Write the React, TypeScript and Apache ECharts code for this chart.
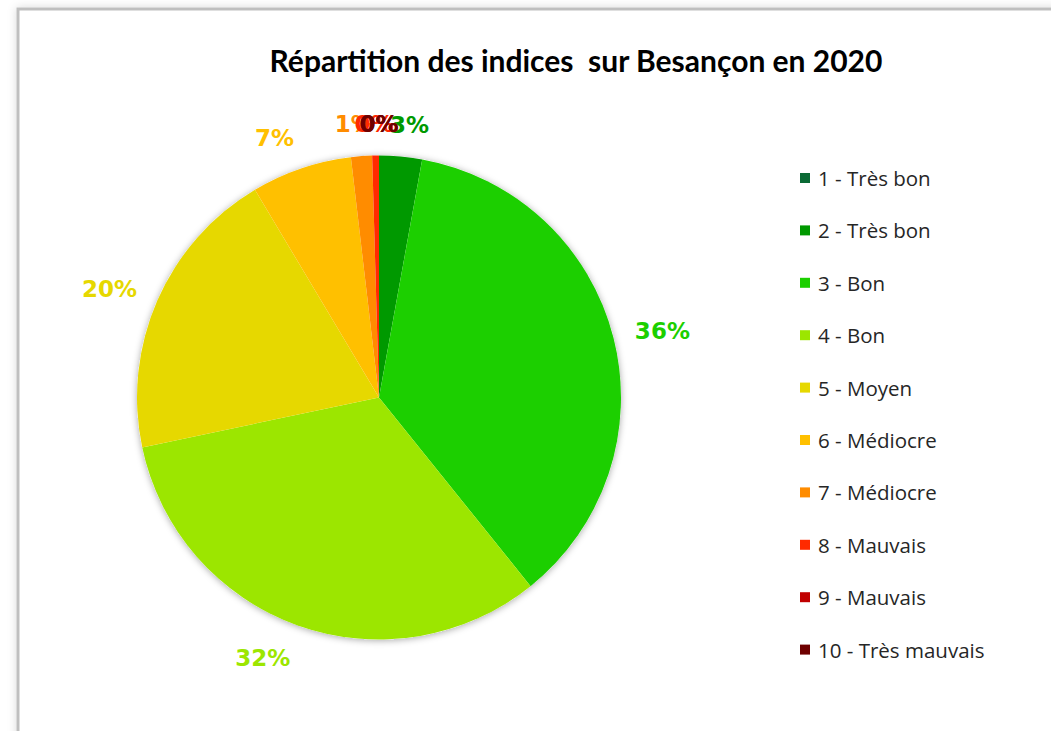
import React, { useEffect, useRef } from "react";
import * as echarts from "echarts";

const titleText = "Répartition des indices  sur Besançon en 2020";
const categories = [
  "1 - Très bon",
  "2 - Très bon",
  "3 - Bon",
  "4 - Bon",
  "5 - Moyen",
  "6 - Médiocre",
  "7 - Médiocre",
  "8 - Mauvais",
  "9 - Mauvais",
  "10 - Très mauvais",
];
const shares = [0, 2.85, 36.3, 32.4, 19.7, 6.7, 1.4, 0.45, 0, 0];
const colors = [
  "#0b6a35",
  "#009900",
  "#1ccf00",
  "#9ce600",
  "#e6d800",
  "#ffc000",
  "#ff8c00",
  "#ff2a00",
  "#c00000",
  "#6e0000",
];

const CX = 379;
const CY = 397.5;
const R = 242;
const GAP = 22;

export default function App() {
  const ref = useRef<HTMLDivElement>(null);
  useEffect(() => {
    if (!ref.current) return;
    const chart = echarts.init(ref.current, undefined, { renderer: "svg" });
    const total = shares.reduce((a, b) => a + b, 0);
    const mids: number[] = [];
    let cum = 0;
    shares.forEach((v) => {
      mids.push(((cum + v / 2) / total) * Math.PI * 2);
      cum += v;
    });
    chart.setOption({
      animation: false,
      backgroundColor: "#ffffff",
      title: {
        text: titleText,
        left: 571,
        textAlign: "center",
        top: 40,
        textStyle: {
          fontFamily: "Lato",
          fontWeight: "bold",
          fontSize: 30,
          color: "#000000",
        },
      },
      graphic: [
        {
          type: "rect",
          z: -10,
          shape: { x: 18, y: 9, width: 1100, height: 800 },
          style: {
            fill: "#ffffff",
            stroke: "#bfbfbf",
            lineWidth: 3,
            shadowBlur: 10,
            shadowColor: "rgba(0,0,0,0.15)",
          },
          silent: true,
        },
      ],
      legend: {
        data: categories,
        orient: "vertical",
        left: 800,
        top: 167,
        padding: 0,
        itemWidth: 10,
        itemHeight: 10,
        itemGap: 30.4,
        icon: "rect",
        textStyle: {
          fontFamily: "Open Sans",
          fontSize: 20.5,
          color: "#262626",
          lineHeight: 22,
          padding: [0, 0, 0, 3],
        },
      },
      series: [
        {
          type: "pie",
          name: "bg",
          center: [CX, CY],
          radius: R,
          silent: true,
          z: 1,
          label: { show: false },
          labelLine: { show: false },
          data: [{ value: 1, name: "" }],
          itemStyle: {
            color: "#ffffff",
            shadowBlur: 7,
            shadowColor: "rgba(0,0,0,0.35)",
            shadowOffsetY: 1,
          },
        },
        {
          type: "pie",
          name: "Indices",
          center: [CX, CY],
          radius: R,
          z: 2,
          startAngle: 90,
          clockwise: true,
          avoidLabelOverlap: false,
          percentPrecision: 2,
          data: categories.map((c, i) => ({
            name: c,
            value: shares[i],
            itemStyle: { color: colors[i] },
            label: { color: colors[i] },
          })),
          label: {
            show: true,
            position: "outside",
            fontFamily: "DejaVu Sans",
            fontWeight: "bold",
            fontSize: 23,
            formatter: (p: any) => Math.round(p.percent) + "%",
          },
          labelLine: { show: false },
          labelLayout: (p: any) => {
            const a = mids[p.dataIndex];
            const s = Math.sin(a);
            const c = Math.cos(a);
            const w = p.labelRect.width;
            const h = p.labelRect.height;
            const ax = CX + (R + GAP) * s;
            const ay = CY - (R + GAP) * c;
            const hx = Math.max(-1, Math.min(1, s * 4));
            return {
              x: ax + (hx * w) / 2,
              y: ay - (c * h) / 2 + 1.5,
              align: "center",
              verticalAlign: "middle",
            };
          },
        },
      ],
    });
    return () => chart.dispose();
  }, []);
  return (
    <div
      ref={ref}
      style={{ position: "fixed", left: 0, top: 0, width: 1051, height: 731 }}
    />
  );
}
